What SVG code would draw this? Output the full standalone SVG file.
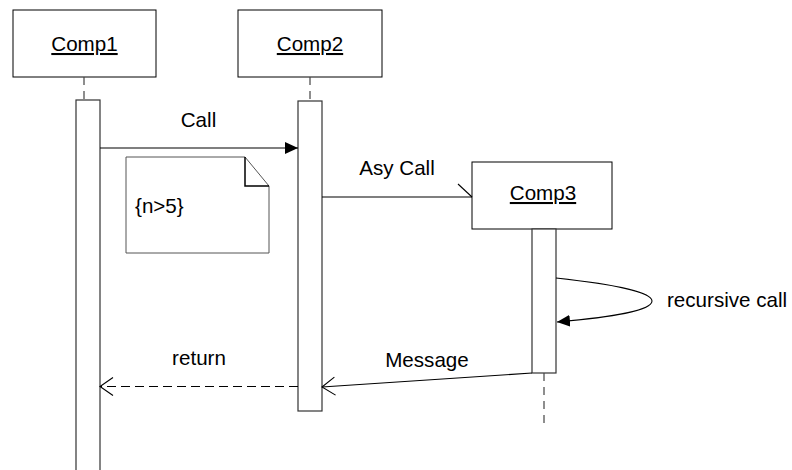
<svg xmlns="http://www.w3.org/2000/svg" width="792" height="470" viewBox="0 0 792 470">
<defs>
<style>
text{font-family:"Liberation Sans",Arial,sans-serif;font-size:20.6px;fill:#000}
.u{text-decoration:underline}
.box{fill:#fff;stroke:#000;stroke-width:1}
.act{fill:#fff;stroke:#333;stroke-width:1.2}
.life{stroke:#444;stroke-width:1.2;stroke-dasharray:8,6;fill:none}
.ln{stroke:#000;stroke-width:1.1;fill:none}
</style>
<marker id="fill" markerWidth="14" markerHeight="12" refX="13" refY="6" orient="auto" markerUnits="userSpaceOnUse"><path d="M0,0 L13,6 L0,12 Z" fill="#000"/></marker>
<marker id="open" markerWidth="16" markerHeight="20" refX="14" refY="10" orient="auto" markerUnits="userSpaceOnUse"><path d="M1,1 L14,10 L1,19" fill="none" stroke="#000" stroke-width="1.1"/></marker>
</defs>
<rect width="792" height="470" fill="#fff"/>
<g id="comp1">
<rect class="box" x="13" y="10" width="143" height="67"/>
<text class="u" x="84.5" y="51" text-anchor="middle">Comp1</text>
<line class="life" x1="84" y1="77" x2="84" y2="100"/>
<rect class="act" x="76" y="100" width="24" height="380"/>
</g>
<g id="comp2">
<rect class="box" x="238" y="10" width="144" height="67"/>
<text class="u" x="310" y="51" text-anchor="middle">Comp2</text>
<line class="life" x1="310" y1="77" x2="310" y2="101"/>
<rect class="act" x="298" y="101" width="24" height="310"/>
</g>
<g id="comp3">
<rect class="box" x="472" y="162" width="140" height="67"/>
<text class="u" x="543" y="200" text-anchor="middle">Comp3</text>
<rect class="act" x="532" y="229" width="24" height="144"/>
<line class="life" x1="544" y1="373" x2="544" y2="428"/>
</g>
<g id="note">
<path d="M126,157 H245 L269,186 V253 H126 Z" fill="#fff" stroke="#555" stroke-width="1"/>
<path d="M245,157 V186 H269" fill="none" stroke="#000" stroke-width="1.5"/>
<text x="135" y="213">{n&gt;5}</text>
</g>
<g id="connectors">
<line class="ln" x1="100" y1="148" x2="298" y2="148" marker-end="url(#fill)"/>
<text x="198.5" y="127" text-anchor="middle">Call</text>
<line class="ln" x1="322" y1="197" x2="472" y2="197"/>
<line class="ln" x1="458" y1="184" x2="472" y2="197"/>
<text x="397" y="175" text-anchor="middle">Asy Call</text>
<path class="ln" d="M556,278 C612,284 652,292 652,301 C652,311 612,317 557,322" marker-end="url(#fill)"/>
<text x="667" y="307">recursive call</text>
<line class="ln" x1="532" y1="373" x2="322" y2="387" marker-end="url(#open)"/>
<text x="427" y="367" text-anchor="middle">Message</text>
<line class="ln" x1="298" y1="386.5" x2="100" y2="386.5" stroke-dasharray="9,5" marker-end="url(#open)"/>
<text x="199" y="365" text-anchor="middle">return</text>
</g>
</svg>
